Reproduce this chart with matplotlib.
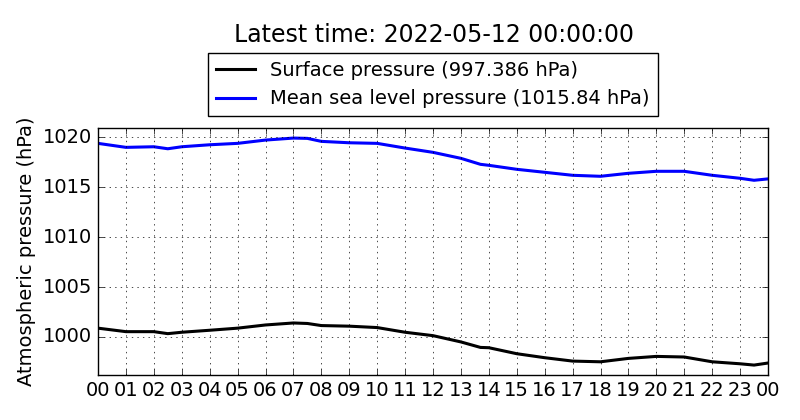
import matplotlib
matplotlib.use("Agg")
import matplotlib.pyplot as plt

# hours since 2022-05-11 00:00
hours = [0, 1, 2, 2.5, 3, 4, 5, 6, 7, 7.5, 8, 9, 10, 11, 12, 13, 13.7,
         14, 15, 16, 17, 18, 19, 20, 21, 22, 23, 23.5, 24]

surface = [1000.88, 1000.53, 1000.53, 1000.33, 1000.47, 1000.67, 1000.88,
           1001.2, 1001.4, 1001.35, 1001.14, 1001.08, 1000.94, 1000.47,
           1000.13, 999.5, 998.95, 998.92, 998.32, 997.92, 997.58, 997.51,
           997.85, 998.05, 997.99, 997.51, 997.31, 997.18, 997.386]

msl = [1019.4, 1019.0, 1019.06, 1018.86, 1019.06, 1019.26, 1019.4, 1019.73,
       1019.93, 1019.9, 1019.6, 1019.46, 1019.4, 1018.93, 1018.5, 1017.9,
       1017.3, 1017.2, 1016.8, 1016.5, 1016.2, 1016.1, 1016.4, 1016.6,
       1016.6, 1016.2, 1015.9, 1015.7, 1015.84]

tick_labels = ["%02d" % (h % 24) for h in range(25)]

plt.style.use("classic")
fig = plt.figure(figsize=(8, 4.2), dpi=100)
ax = fig.add_axes([0.1225, 0.107, 0.8375, 0.588])

ax.plot(hours, surface, color="black", lw=2.2,
        label="Surface pressure (%s hPa)" % surface[-1])
ax.plot(hours, msl, color="blue", lw=2.2,
        label="Mean sea level pressure (%s hPa)" % msl[-1])

ax.set_xlim(0, 24)
ax.set_ylim(min(surface) - 1, max(msl) + 1)
ax.set_xticks(range(25))
ax.set_xticklabels(tick_labels)
ax.set_yticks([1000, 1005, 1010, 1015, 1020])
ax.ticklabel_format(axis="y", useOffset=False)
ax.grid(True)
ax.set_ylabel("Atmospheric pressure (hPa)", fontsize=14)
ax.tick_params(labelsize=14)

ax.legend(loc="lower center", bbox_to_anchor=(0.5, 1.048), fontsize=14,
          borderaxespad=0, handlelength=2, numpoints=1)
fig.text(0.5425, 0.917, "Latest time: 2022-05-12 00:00:00", fontsize=17,
         ha="center", va="center")

fig.savefig("out.png", dpi=100)
